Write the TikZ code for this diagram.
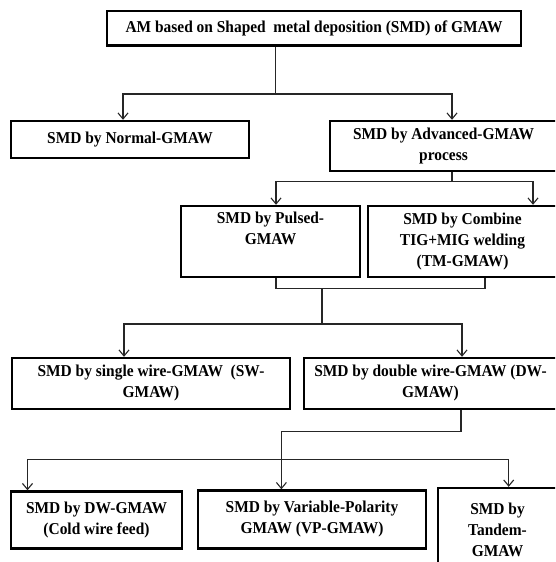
\documentclass[tikz,border=0pt]{standalone}
\usepackage{fontspec}
\setmainfont{Liberation Serif}[FakeStretch=0.93]
\usetikzlibrary{arrows.meta}

\begin{document}
\begin{tikzpicture}[>={Straight Barb[length=6pt,width=10pt]},x=1pt,y=-1pt,
		box/.style={draw,line width=2.4pt,align=center,inner sep=0pt,font=\fontsize{16.6}{21}\selectfont\bfseries},
		link/.style={line width=1.1pt,color=black!85}]
		\useasboundingbox (0,0) rectangle (555,562);
		\clip (0,0) rectangle (555,562);
		\node[box,minimum width=414pt,minimum height=34.5pt] (top) at (314,28.3) {AM based on Shaped\ \ metal deposition (SMD) of GMAW};
		\node[box,minimum width=238pt,minimum height=37pt] (normal) at (130,139.5) {SMD by Normal-GMAW};
		\node[box,minimum width=227pt,minimum height=50pt] (adv) at (443.5,146) {SMD by Advanced-GMAW\\process};
		\node[box,minimum width=179pt,minimum height=71pt] (pulsed) at (270.5,241.5) {SMD by Pulsed-\\GMAW\\\strut};
		\node[box,minimum width=189pt,minimum height=71pt] (combine) at (462.5,241.5) {SMD by Combine\\TIG+MIG\ welding\\(TM-GMAW)};
		\node[box,minimum width=278pt,minimum height=51pt] (single) at (151,383.5) {SMD by single wire-GMAW\ \ (SW-\\GMAW)};
		\node[box,minimum width=253pt,minimum height=51pt] (double) at (430.5,383.5) {SMD by double wire-GMAW (DW-\\GMAW)};
		\node[box,minimum width=171pt,minimum height=57pt] (cold) at (96.5,520) {SMD by DW-GMAW\\(Cold wire feed)};
		\node[box,minimum width=228pt,minimum height=58pt] (vp) at (312,519.5) {SMD by Variable-Polarity\\GMAW (VP-GMAW)};
		\node[box,minimum width=119pt,minimum height=84pt] (tandem) at (497.5,530) {SMD by\\Tandem-\\GMAW};
		\coordinate (j1) at (275.4,94);
		\draw[link] ([xshift=-38.6pt]top.south) -- (j1);
		\draw[link,->] (j1) -| ([xshift=-7pt]normal.north);
		\draw[link,->] (j1) -| ([xshift=8.5pt]adv.north);
		\draw[link] ([xshift=8.5pt]adv.south) -- ++(0,9) coordinate (j2);
		\draw[link,->] (j2) -| ([xshift=5.5pt]pulsed.north);
		\draw[link,->] (j2) -| ([xshift=70.5pt]combine.north);
		\draw[link] ([xshift=5.5pt]pulsed.south) |- (322,288.5) coordinate (j3) -| ([xshift=22.5pt]combine.south);
		\draw[link] (j3) -- ++(0,35.5) coordinate (j4);
		\draw[link,->] (j4) -| ([xshift=-27pt]single.north);
		\draw[link,->] (j4) -| ([xshift=31.5pt]double.north);
		\draw[link,->] ([xshift=30.5pt]double.south) -- ++(0,21) -| ([xshift=-30.6pt]vp.north);
		\coordinate (j5) at (281.4,459.5);
		\draw[link,->] (j5) -| ([xshift=-69pt]cold.north);
		\draw[link,->] (j5) -| ([xshift=11.2pt]tandem.north);
		\end{tikzpicture}
\end{document}
